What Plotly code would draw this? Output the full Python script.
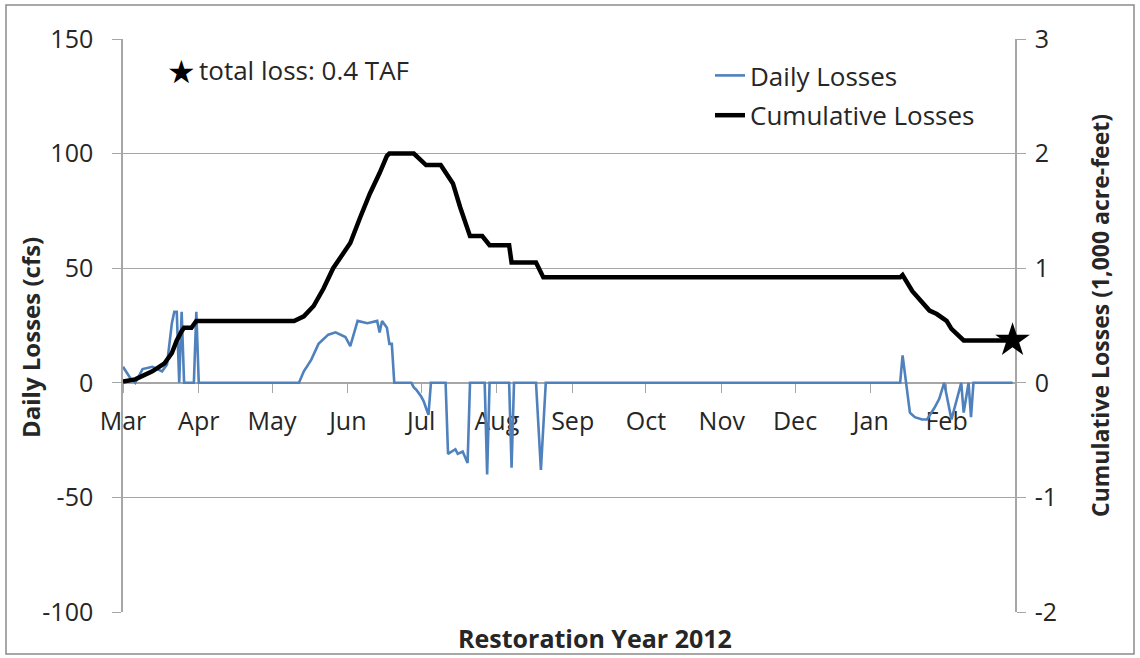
import plotly.graph_objects as go

# daily losses (cfs), vertices of the blue line
daily_dates = [
    "2012-03-01", "2012-03-04", "2012-03-06", "2012-03-09", "2012-03-13", "2012-03-17",
    "2012-03-19", "2012-03-21", "2012-03-22", "2012-03-23", "2012-03-24", "2012-03-25",
    "2012-03-26", "2012-03-30", "2012-03-31", "2012-04-01", "2012-05-12", "2012-05-14",
    "2012-05-17", "2012-05-20", "2012-05-24", "2012-05-27", "2012-05-31", "2012-06-02",
    "2012-06-05", "2012-06-09", "2012-06-13", "2012-06-14", "2012-06-15", "2012-06-17",
    "2012-06-18", "2012-06-19", "2012-06-20", "2012-06-27", "2012-06-28", "2012-06-29",
    "2012-07-01", "2012-07-02", "2012-07-03", "2012-07-04", "2012-07-05", "2012-07-11",
    "2012-07-12", "2012-07-15", "2012-07-16", "2012-07-18", "2012-07-20", "2012-07-21",
    "2012-07-27", "2012-07-28", "2012-07-29", "2012-08-06", "2012-08-07", "2012-08-08",
    "2012-08-17", "2012-08-19", "2012-08-21", "2013-01-13", "2013-01-14", "2013-01-17",
    "2013-01-19", "2013-01-22", "2013-01-24", "2013-01-27", "2013-01-29", "2013-01-31",
    "2013-02-03", "2013-02-07", "2013-02-08", "2013-02-10", "2013-02-11", "2013-02-12",
    "2013-02-28",
]
daily_cfs = [
    7, 2, 0, 6, 7, 5,
    8, 26, 31, 31, 0, 31,
    0, 0, 31, 0, 0, 5,
    10, 17, 21, 22, 20, 16,
    27, 26, 27, 22, 27, 24,
    17, 17, 0, 0, -2, -3,
    -6, -8, -11, -14, 0, 0,
    -31, -29, -31, -30, -35, 0,
    0, -40, 0, 0, -37, 0,
    0, -38, 0, 0, 12, -13,
    -15, -16, -16, -11, -7, 0,
    -16, 0, -13, 0, -15, 0,
    0,
]

# cumulative losses (1,000 acre-feet)
cum_dates = [
    "2012-03-01", "2012-03-06", "2012-03-13", "2012-03-18", "2012-03-21", "2012-03-23",
    "2012-03-25", "2012-03-26", "2012-03-29", "2012-03-31", "2012-05-10", "2012-05-14",
    "2012-05-18", "2012-05-22", "2012-05-26", "2012-06-02", "2012-06-06", "2012-06-10",
    "2012-06-14", "2012-06-17", "2012-06-18", "2012-06-28", "2012-06-30", "2012-07-03",
    "2012-07-09", "2012-07-14", "2012-07-17", "2012-07-21", "2012-07-26", "2012-07-29",
    "2012-08-06", "2012-08-07", "2012-08-17", "2012-08-20", "2013-01-13", "2013-01-14",
    "2013-01-18", "2013-01-22", "2013-01-25", "2013-01-28", "2013-02-01", "2013-02-03",
    "2013-02-08", "2013-02-28",
]
cum_taf = [
    0.01, 0.03, 0.10, 0.17, 0.26, 0.37,
    0.45, 0.48, 0.48, 0.54, 0.54, 0.58,
    0.67, 0.82, 1.00, 1.22, 1.44, 1.65,
    1.83, 1.98, 2.00, 2.00, 1.96, 1.90,
    1.90, 1.74, 1.53, 1.28, 1.28, 1.20,
    1.20, 1.05, 1.05, 0.92, 0.92, 0.94,
    0.80, 0.70, 0.63, 0.60, 0.54, 0.47,
    0.37, 0.37,
]

total_date = ["2013-02-28"]
total_taf = [0.37]

month_ticks = ["2012-03-01", "2012-04-01", "2012-05-01", "2012-06-01", "2012-07-01",
               "2012-08-01", "2012-09-01", "2012-10-01", "2012-11-01", "2012-12-01",
               "2013-01-01", "2013-02-01"]
month_labels = ["Mar", "Apr", "May", "Jun", "Jul", "Aug", "Sep", "Oct", "Nov", "Dec",
                "Jan", "Feb"]
cfs_ticks = [-100, -50, 0, 50, 100, 150]
cfs_labels = ["-100", "-50", "0", "50", "100", "150"]
taf_ticks = [-2, -1, 0, 1, 2, 3]
taf_labels = ["-2", "-1", "0", "1", "2", "3"]

FONT = "'Open Sans', Lato, sans-serif"
GRID = "#A6A6A6"
TXT = "#262626"

# plot area in page pixels
L, R, T, B = 123, 1015, 39, 612
W, H = R - L, B - T


def px(x):
    return (x - L) / W


def py(y):
    return (B - y) / H


fig = go.Figure()
fig.add_trace(go.Scatter(
    x=daily_dates, y=daily_cfs, name="Daily Losses", mode="lines",
    line=dict(color="#4F81BD", width=2.6), legendgroup="a"))
fig.add_trace(go.Scatter(
    x=cum_dates, y=cum_taf, name="Cumulative Losses", mode="lines", yaxis="y2",
    line=dict(color="black", width=4.5), legendgroup="b"))
fig.add_trace(go.Scatter(
    x=total_date, y=total_taf, mode="markers", yaxis="y2", showlegend=False,
    marker=dict(symbol="star", size=26, color="black"), cliponaxis=False))

fig.update_layout(
    width=1140, height=658,
    margin=dict(l=L, r=1140 - R, t=T, b=658 - B),
    paper_bgcolor="white", plot_bgcolor="white",
    font=dict(family=FONT, size=25, color=TXT),
    xaxis=dict(
        type="date", range=["2012-03-01", "2013-03-01"],
        tickmode="array", tickvals=month_ticks, ticktext=month_labels,
        ticks="outside", ticklen=9, tickcolor=GRID, showline=True, linecolor=GRID,
        linewidth=1.5, showgrid=False, zeroline=False, anchor="free", position=0.4,
        ticklabelstandoff=7, layer="below traces",
    ),
    yaxis=dict(
        range=[-100, 150], tickmode="array", tickvals=cfs_ticks, ticktext=cfs_labels,
        ticks="outside", ticklen=9, tickcolor=GRID,
        showline=True, linecolor=GRID, linewidth=1.5, showgrid=True, gridcolor=GRID,
        gridwidth=1.2, zeroline=False, ticklabelstandoff=14,
        layer="below traces",
    ),
    yaxis2=dict(
        range=[-2, 3], tickmode="array", tickvals=taf_ticks, ticktext=taf_labels,
        overlaying="y", side="right", ticks="outside",
        ticklen=9, tickcolor=GRID, showline=True, linecolor=GRID, linewidth=1.5,
        showgrid=False, zeroline=False, ticklabelstandoff=4,
        layer="below traces",
    ),
    legend=dict(x=px(710), y=py(52), xanchor="left", yanchor="top",
                bgcolor="rgba(0,0,0,0)", font=dict(size=26), tracegroupgap=3),
    showlegend=True,
)

# axis titles
fig.add_annotation(x=px(30), y=py(338), xref="paper", yref="paper",
                   text="<b>Daily Losses (cfs)</b>", textangle=-90, showarrow=False,
                   font=dict(size=24), xanchor="center", yanchor="middle")
fig.add_annotation(x=px(1100), y=py(316), xref="paper", yref="paper",
                   text="<b>Cumulative Losses (1,000 acre-feet)</b>", textangle=-90,
                   showarrow=False, font=dict(size=23), xanchor="center", yanchor="middle")
fig.add_annotation(x=px(595), y=py(638), xref="paper", yref="paper",
                   text="<b>Restoration Year 2012</b>", showarrow=False,
                   font=dict(size=25), xanchor="center", yanchor="middle")

# total loss note
fig.add_annotation(x=px(181), y=py(70), xref="paper", yref="paper",
                   text="★", showarrow=False, font=dict(size=32, color="black"),
                   xanchor="center", yanchor="middle")
fig.add_annotation(x=px(197), y=py(70), xref="paper", yref="paper",
                   text="total loss: 0.4 TAF", showarrow=False, font=dict(size=26),
                   xanchor="left", yanchor="middle")

# chart-area border
fig.add_shape(type="rect", xref="paper", yref="paper",
              x0=px(6), x1=px(1134), y0=py(654), y1=py(5),
              line=dict(color="#8C8C8C", width=1.5))

fig.write_html("out.html", config={"displayModeBar": False},
               post_script="document.body.style.margin='0px';")
